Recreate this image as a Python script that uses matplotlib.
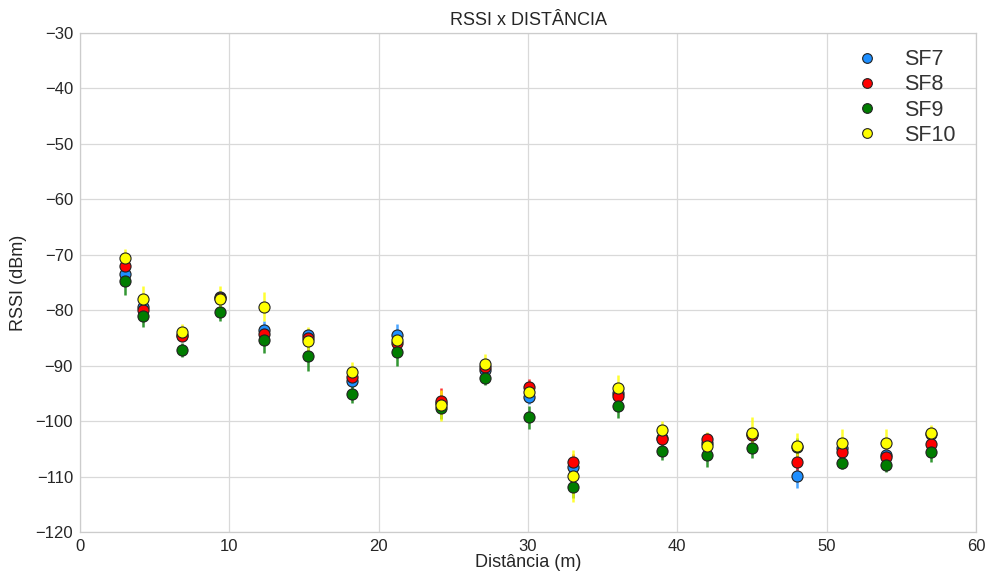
import matplotlib
matplotlib.use("Agg")
import matplotlib.pyplot as plt
from matplotlib.lines import Line2D

distance = [3.0, 4.2, 6.8, 9.4, 12.3, 15.3, 18.2, 21.2, 24.2, 27.1,
            30.1, 33.0, 36.0, 39.0, 42.0, 45.0, 48.0, 51.0, 54.0, 57.0]

sf7 = [-73.5, -79.4, -84.4, -77.7, -83.5, -84.4, -92.7, -84.5, -96.8, -90.7,
       -95.7, -108.2, -95.0, -103.0, -104.0, -102.3, -109.9, -104.8, -106.2, -102.4]
sf8 = [-72.0, -80.0, -84.6, -77.8, -84.3, -85.0, -92.1, -86.0, -96.3, -90.2,
       -93.9, -107.4, -95.4, -103.2, -103.3, -102.5, -107.4, -105.6, -106.4, -104.2]
sf9 = [-74.8, -81.0, -87.2, -80.4, -85.4, -88.2, -95.1, -87.6, -97.7, -92.2,
       -99.3, -111.9, -97.3, -105.4, -106.1, -104.9, -104.6, -107.5, -107.9, -105.5]
sf10 = [-70.5, -77.9, -84.0, -78.0, -79.4, -85.5, -91.1, -85.4, -97.1, -89.7,
        -94.8, -109.9, -94.1, -101.6, -104.4, -102.1, -104.5, -104.0, -104.0, -102.2]

sf7_err = [1.2, 1.5, 1.0, 1.0, 1.5, 1.0, 1.2, 2.1, 1.5, 1.2,
           1.2, 1.5, 1.0, 1.0, 1.0, 1.0, 2.2, 1.2, 1.0, 1.0]
sf8_err = [1.2, 1.2, 1.0, 1.0, 1.2, 1.0, 1.2, 1.2, 2.2, 1.0,
           1.5, 1.5, 1.0, 1.0, 1.0, 1.0, 1.5, 1.0, 1.0, 1.0]
sf9_err = [2.5, 2.0, 1.2, 1.5, 2.4, 2.7, 1.7, 2.4, 2.0, 1.2,
           2.1, 2.0, 2.2, 1.6, 2.1, 1.8, 1.5, 1.2, 1.2, 1.8]
sf10_err = [1.5, 2.2, 1.5, 2.3, 2.6, 2.4, 1.8, 1.5, 2.8, 1.8,
            1.5, 4.7, 2.4, 1.7, 2.5, 2.8, 2.3, 2.5, 2.5, 1.5]

labels = ["SF7", "SF8", "SF9", "SF10"]
colors = ["#1e8fff", "#ff0000", "#007d00", "#ffff00"]

plt.rcParams['font.family'] = ['Liberation Sans', 'DejaVu Sans']

fig = plt.figure(figsize=(9.85, 5.71), dpi=100)
ax = fig.add_axes([80/985, 1-532/571, (976-80)/985, (532-33)/571])

series = [(sf7, sf7_err), (sf8, sf8_err), (sf9, sf9_err), (sf10, sf10_err)]
handles = []
for (vals, errs), lab, col in zip(series, labels, colors):
    _, _, bars = ax.errorbar(distance, vals, yerr=errs, fmt='o', color=col, ecolor=col,
                             elinewidth=1.8, capsize=0, markersize=8,
                             markeredgecolor='#222222', markeredgewidth=0.8)
    for b in bars:
        b.set_alpha(0.8)
    handles.append(Line2D([], [], linestyle='none', marker='o', markersize=7,
                          markerfacecolor=col, markeredgecolor='#222222',
                          markeredgewidth=0.8, label=lab))

ax.set_xlim(0, 60)
ax.set_ylim(-120, -30)
ax.set_xticks(range(0, 61, 10))
ax.set_yticks(range(-120, -29, 10))
ax.grid(True, color='#d9d9d9', linewidth=0.9)
ax.set_axisbelow(True)
for s in ax.spines.values():
    s.set_color('#cccccc')
    s.set_linewidth(0.9)
ax.tick_params(axis='both', labelsize=12, length=0, colors='#262626', pad=5)
ax.set_title("RSSI x DISTÂNCIA", fontsize=13, color='#262626', pad=6)
ax.set_xlabel("Distância (m)", fontsize=13, color='#262626', labelpad=0)
ax.set_ylabel("RSSI (dBm)", fontsize=13, color='#262626', labelpad=6)

ax.legend(handles=handles, loc='upper right', frameon=False, fontsize=15.5,
          handletextpad=0.7, labelspacing=0.2, borderaxespad=0.6,
          bbox_to_anchor=(1.001, 1.011), labelcolor='#333333')

fig.savefig("out.png", dpi=100)
